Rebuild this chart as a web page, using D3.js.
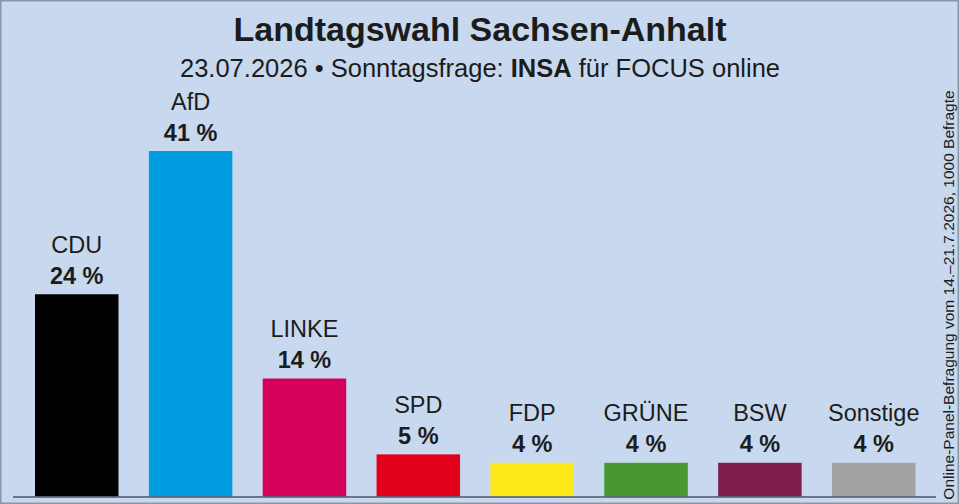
<!DOCTYPE html>
<html>
<head>
<meta charset="utf-8">
<script src="https://cdn.jsdelivr.net/npm/d3@7"></script>
<style>
html,body{margin:0;padding:0;background:#c8d9ef;}
svg{display:block;}
text{font-family:"Liberation Sans",Arial,Helvetica,sans-serif;fill:#1c1c1c;}
</style>
</head>
<body>
<svg id="chart" width="959" height="504"></svg>
<script>
const parties = ["CDU","AfD","LINKE","SPD","FDP","GRÜNE","BSW","Sonstige"];
const values = [24,41,14,5,4,4,4,4];
const colors = ["#000000","#009ee0","#d4005b","#e2001a","#ffe81a","#46982f","#7e1f4c","#a3a3a3"];
const valueLabels = ["24 %","41 %","14 %","5 %","4 %","4 %","4 %","4 %"];
const title = "Landtagswahl Sachsen-Anhalt";
const subtitleParts = [["23.07.2026 • Sonntagsfrage: ",400],["INSA",700],[" für FOCUS online",400]];
const sideNote = "Online-Panel-Befragung vom 14.–21.7.2026, 1000 Befragte";

const W = 959, H = 504;
const svg = d3.select("#chart");

svg.append("rect").attr("x",0.75).attr("y",0.75).attr("width",W-1.5).attr("height",H-1.5)
  .attr("fill","#c8d9ef").attr("stroke","#8c96a3").attr("stroke-width",1.5);

const x = d3.scaleBand().domain(parties).range([35, 915.5]).paddingInner(0.2667).paddingOuter(0);
const y = d3.scaleLinear().domain([0, 41]).range([496.5, 151]);

svg.append("g").selectAll("rect").data(parties).join("rect")
  .attr("x", d => x(d))
  .attr("width", x.bandwidth())
  .attr("y", (d,i) => y(values[i]))
  .attr("height", (d,i) => y(0) - y(values[i]))
  .attr("fill", (d,i) => colors[i]);

// baseline
svg.append("line").attr("x1",13).attr("x2",936).attr("y1",y(0)+0.5).attr("y2",y(0)+0.5)
  .attr("stroke","#4b5565").attr("stroke-width",1.6);

const lbl = svg.append("g");
lbl.selectAll("text.name").data(parties).join("text").attr("class","name")
  .attr("x", d => x(d) + x.bandwidth()/2)
  .attr("y", (d,i) => y(values[i]) - 41.5)
  .attr("text-anchor","middle").attr("font-size",23.5)
  .text(d => d);
lbl.selectAll("text.val").data(parties).join("text").attr("class","val")
  .attr("x", d => x(d) + x.bandwidth()/2)
  .attr("y", (d,i) => y(values[i]) - 10.5)
  .attr("text-anchor","middle").attr("font-size",23.5).attr("font-weight","bold")
  .text((d,i) => valueLabels[i]);

svg.append("text").attr("x",480).attr("y",41).attr("text-anchor","middle")
  .attr("font-size",34).attr("font-weight","bold").text(title);

const sub = svg.append("text").attr("x",480).attr("y",77).attr("text-anchor","middle").attr("font-size",25.5);
subtitleParts.forEach(p => sub.append("tspan").attr("font-weight",p[1]).text(p[0]));

svg.append("text").attr("transform","translate(954,295) rotate(-90)")
  .attr("text-anchor","middle").attr("font-size",15.5).text(sideNote);
</script>
</body>
</html>
